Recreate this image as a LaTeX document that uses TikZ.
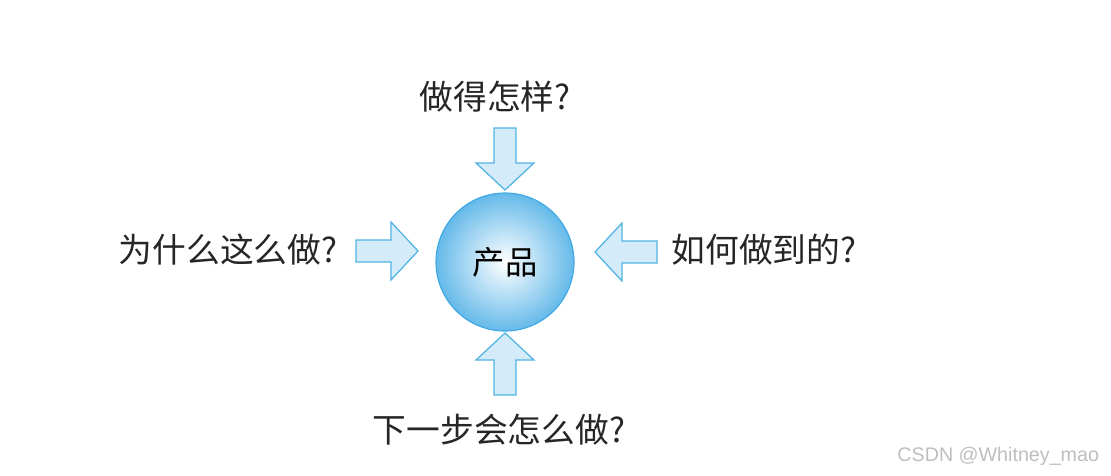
\documentclass[tikz,border=0pt]{standalone}
\usepackage{fontspec}
\newfontfamily\cjk{Noto Sans CJK SC}
\setsansfont{Liberation Sans}
\usetikzlibrary{positioning}
\definecolor{skyrim}{RGB}{62,168,228}
\definecolor{skyfill}{RGB}{212,236,250}
\definecolor{skyline}{RGB}{82,180,226}
\definecolor{markgray}{RGB}{190,190,190}

\tikzset{
  question/.style={font=\cjk\fontsize{24}{28}\selectfont,text=black!85},
  blockarrow/.style={fill=skyfill,draw=skyline,line width=0.9pt,line join=miter}
}

\begin{document}
\begin{tikzpicture}[x=0.025cm,y=-0.025cm]
        \useasboundingbox (0,0) rectangle (1111,475);
        % product in the middle
        \node[circle,minimum size=138*0.025cm,draw=skyrim,line width=0.8pt,
              inner color=white,outer color=skyrim!80,
              font=\cjk\fontsize{23}{27}\selectfont] (prod) at (505,262) {产品};
        % four questions
        \node[question] (how)  at (495,97)  {做得怎样?};
        \node[question] (why)  at (228,250) {为什么这么做?};
        \node[question] (way)  at (764,250) {如何做到的?};
        \node[question] (next) at (499,430) {下一步会怎么做?};
        % block arrows, tip at (0,0) pointing along +x
        \foreach \tx/\ty/\ang in {505/190/-90, 505/333/90, 418/251/0, 595/252/180}{
          \draw[blockarrow,shift={(\tx,\ty)},rotate=\ang]
            (0,0) -- (-27,-29) -- (-27,-11) -- (-62,-11)
            -- (-62,11) -- (-27,11) -- (-27,29) -- cycle;
        }
        \node[font=\sffamily\fontsize{14}{16}\selectfont,text=markgray,anchor=east] (mark) at (1104,456) {CSDN @Whitney\_mao};
      \end{tikzpicture}
\end{document}
